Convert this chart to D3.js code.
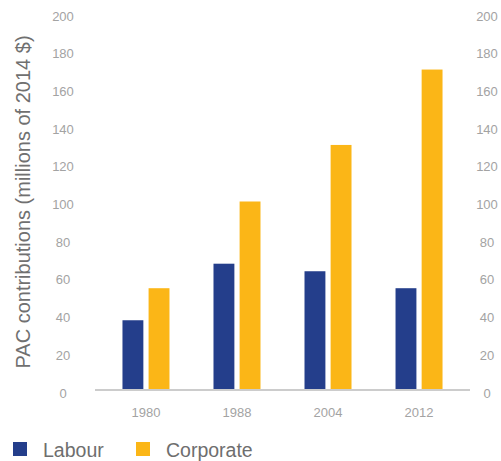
<!DOCTYPE html>
<html><head><meta charset="utf-8">
<script src="https://cdn.jsdelivr.net/npm/d3@7"></script>
<style>body{margin:0;background:#fff}svg{display:block}</style>
</head><body>
<svg id="c" width="501" height="461"></svg>
<script>
const years = ["1980", "1988", "2004", "2012"];
const series = ["Labour", "Corporate"];
const labour = [37, 67, 63, 54];
const corporate = [54, 100, 130, 170];
const yTicks = [0, 20, 40, 60, 80, 100, 120, 140, 160, 180, 200];
const colors = ["#243e8b", "#fbb617"];
const yTitle = "PAC contributions (millions of 2014 $)";

const values = [labour, corporate];
const svg = d3.select("#c");
const font = "'Liberation Sans', Arial, sans-serif";

const y = d3.scaleLinear().domain([0, 200]).range([390, 13]);
const x = d3.scaleBand().domain(years).range([95, 470]).paddingInner(0).paddingOuter(0.06);
const groupW = 47;
const xs = d3.scaleBand().domain(series).range([0, groupW]).paddingInner(0.2);

// y tick labels left & right
[63, 487].forEach(xp => {
  svg.append("g").selectAll("text").data(yTicks).join("text")
    .attr("x", xp).attr("y", d => y(d) + 3)
    .attr("text-anchor", "middle").attr("dominant-baseline", "central")
    .attr("font-family", font).attr("font-size", 13).attr("fill", "#a3a3a3")
    .text(d => d);
});

// bars
series.forEach((s, si) => {
  svg.append("g").selectAll("rect").data(years).join("rect")
    .attr("x", (d) => x(d) + x.bandwidth() / 2 - groupW / 2 + xs(s))
    .attr("width", xs.bandwidth())
    .attr("y", (d, i) => y(values[si][i]))
    .attr("height", (d, i) => y(0) - y(values[si][i]))
    .attr("fill", colors[si]);
});

// x axis line
svg.append("line").attr("x1", 95).attr("x2", 470).attr("y1", y(0)).attr("y2", y(0))
  .attr("stroke", "#cccccc").attr("stroke-width", 2);

// x labels
svg.append("g").selectAll("text").data(years).join("text")
  .attr("x", d => x(d) + x.bandwidth() / 2).attr("y", 417)
  .attr("text-anchor", "middle")
  .attr("font-family", font).attr("font-size", 13).attr("fill", "#a3a3a3")
  .text(d => d);

// y title
svg.append("text")
  .attr("transform", "translate(30,202) rotate(-90)")
  .attr("text-anchor", "middle")
  .attr("font-family", font).attr("font-size", 20).attr("fill", "#707070")
  .text(yTitle);

// legend
const legX = [13, 136];
series.forEach((s, i) => {
  svg.append("rect").attr("x", legX[i]).attr("y", 442).attr("width", 14).attr("height", 14).attr("fill", colors[i]);
  svg.append("text").attr("x", legX[i] + 30).attr("y", 457)
    .attr("font-family", font).attr("font-size", 19.5).attr("fill", "#6e6e6e").text(s);
});
</script>
</body></html>
